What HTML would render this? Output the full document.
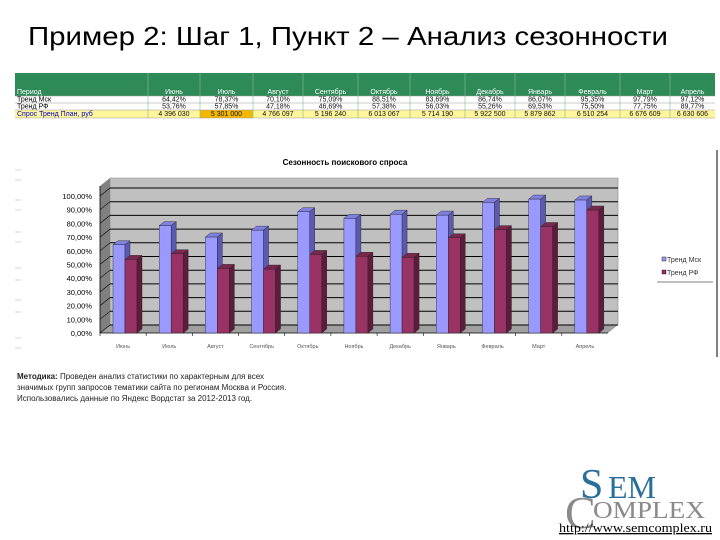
<!DOCTYPE html>
<html><head><meta charset="utf-8"><style>
body{margin:0;background:#fff;}
svg{display:block;font-family:"Liberation Sans",sans-serif;}
</style></head><body>
<svg id="s" width="720" height="540" viewBox="0 0 720 540">
<text x="28" y="45" font-size="26" textLength="640" lengthAdjust="spacingAndGlyphs" fill="#000">Пример 2: Шаг 1, Пункт 2 – Анализ сезонности</text>
<g id="tbl"></g>
<g id="chart"></g>
<g font-size="8" fill="#222">
<text x="17" y="379"><tspan font-weight="bold">Методика:</tspan> Проведен анализ статистики по характерным для всех</text>
<text x="17" y="390">значимых групп запросов тематики сайта по регионам Москва и Россия.</text>
<text x="17" y="401">Использовались данные по Яндекс Вордстат за 2012-2013 год.</text>
</g>
<g font-family="Liberation Serif,serif">
<text x="565" y="528" font-size="46" fill="#8a8a8a">C</text>
<text x="593" y="518" font-size="24" textLength="112" lengthAdjust="spacingAndGlyphs" fill="#8a8a8a">OMPLEX</text>
<text x="580" y="498" font-size="42" fill="#2a6f9a">S</text>
<text x="608" y="498" font-size="32" fill="#2a6f9a">EM</text>
<text x="559" y="532" font-size="13" textLength="153" lengthAdjust="spacingAndGlyphs" fill="#000" text-decoration="underline">http://www.semcomplex.ru</text>
</g>
</svg>
<script>
const months=["Июнь","Июль","Август","Сентябрь","Октябрь","Ноябрь","Декабрь","Январь","Февраль","Март","Апрель"];
const mskValues=[64.42,78.37,70.10,75.09,88.51,83.69,86.74,86.07,95.35,97.79,97.12];
const rfValues=[53.76,57.85,47.18,46.69,57.38,56.03,55.26,69.53,75.50,77.75,89.77];
const demand=["4 396 030","5 301 000","4 766 097","5 196 240","6 013 067","5 714 190","5 922 500","5 879 862","6 510 254","6 676 609","6 630 606"];
const yTicks=[0,10,20,30,40,50,60,70,80,90,100];
const NS="http://www.w3.org/2000/svg";
function mk(p,tag,at,txt){const e=document.createElementNS(NS,tag);for(const k in at)e.setAttribute(k,at[k]);if(txt!=null)e.textContent=txt;p.appendChild(e);return e;}
const fmt=v=>v.toFixed(2).replace('.',',')+'%';
const tbl=document.getElementById('tbl');
const colX=[15,148,200,253,303,358,410,465,515,565,620,670,715];
mk(tbl,'rect',{x:15,y:73,width:700,height:23,fill:'#2e8b57'});
mk(tbl,'rect',{x:15,y:110,width:700,height:8,fill:'#fff59a'});
mk(tbl,'rect',{x:200,y:110,width:53,height:8,fill:'#f5b800'});
for(let i=1;i<colX.length-1;i++){mk(tbl,'line',{x1:colX[i],y1:73,x2:colX[i],y2:118,stroke:'#7fbf9a','stroke-width':0.6});}
[96,103,110,118].forEach(y=>mk(tbl,'line',{x1:15,y1:y,x2:715,y2:y,stroke:'#999','stroke-width':0.5}));
const rowLabels=["Период","Тренд Мск","Тренд РФ","Спрос Тренд План, руб"];
const rowY=[94,101.5,108.5,116];
rowLabels.forEach((l,r)=>{const t=mk(tbl,'text',{x:17,y:rowY[r],'font-size':7,fill:r==0?'#fff':(r==3?'#00c':'#000')},l);

});
months.forEach((m,i)=>{const cx=(colX[i+1]+colX[i+2])/2;
const vals=[m,fmt(mskValues[i]),fmt(rfValues[i]),demand[i]];
vals.forEach((v,r)=>{const t=mk(tbl,'text',{x:cx,y:rowY[r],'font-size':7,'text-anchor':'middle',fill:r==0?'#fff':'#111'},v);

});});
const ch=document.getElementById('chart');
const X0=100,X1=608,Y0=333,H=137,DX=10,DY=-8;
const yS=v=>Y0-v/100*H;
const n=months.length,cw=(X1-X0)/n;
mk(ch,'rect',{x:15,y:150,width:702,height:207,fill:'#fff'});
mk(ch,'line',{x1:717,y1:150,x2:717,y2:357,stroke:'#000','stroke-width':1});
[170,180,200,210,232,242,268,280,300,312,338,348].forEach(y=>mk(ch,'line',{x1:15,y1:y,x2:21,y2:y,stroke:'#bbb','stroke-width':0.6}));
mk(ch,'text',{x:345,y:165,'font-size':8,'font-weight':'bold','text-anchor':'middle'},'Сезонность поискового спроса');
mk(ch,'polygon',{points:`${X0+DX},${yS(100)+DY-10} ${X1+DX},${yS(100)+DY-10} ${X1+DX},${Y0+DY} ${X0+DX},${Y0+DY}`,fill:'#c0c0c0',stroke:'#888','stroke-width':0.6});
mk(ch,'polygon',{points:`${X0},${yS(100)-10} ${X0+DX},${yS(100)+DY-10} ${X0+DX},${Y0+DY} ${X0},${Y0}`,fill:'#808080'});
mk(ch,'polygon',{points:`${X0},${Y0} ${X0+DX},${Y0+DY} ${X1+DX},${Y0+DY} ${X1},${Y0}`,fill:'#a0a0a0'});
yTicks.forEach(v=>{const y=yS(v);
const g=mk(ch,'line',{x1:X0+DX,y1:y+DY,x2:X1+DX,y2:y+DY,stroke:'#000','stroke-width':1});


mk(ch,'line',{x1:X0,y1:y,x2:X0+DX,y2:y+DY,stroke:'#000','stroke-width':0.6});
const t=mk(ch,'text',{x:92,y:y+3,'font-size':7.5,'text-anchor':'end',fill:'#000'},v.toFixed(2).replace('.',',')+'%');

});
mk(ch,'line',{x1:X0,y1:Y0,x2:X1,y2:Y0,stroke:'#000','stroke-width':0.8});
mk(ch,'line',{x1:X0,y1:yS(100)-10,x2:X0,y2:Y0,stroke:'#000','stroke-width':0.8});
function bar(x,v,front,top,side,name){const w=12,d=5,dd=-4,y=yS(v);
const g=mk(ch,'g',{});


mk(g,'rect',{x:x,y:y,width:w,height:Y0-y,fill:front,stroke:'#222','stroke-width':0.4});
mk(g,'polygon',{points:`${x},${y} ${x+d},${y+dd} ${x+w+d},${y+dd} ${x+w},${y}`,fill:top,stroke:'#222','stroke-width':0.4});
mk(g,'polygon',{points:`${x+w},${y} ${x+w+d},${y+dd} ${x+w+d},${Y0+dd} ${x+w},${Y0}`,fill:side,stroke:'#222','stroke-width':0.4});}
months.forEach((m,i)=>{const cx=X0+cw*i;
bar(cx+13,mskValues[i],'#9999ff','#8080e0','#5a5ab0','bar-msk');
bar(cx+25,rfValues[i],'#993366','#7a2850','#5e1c3c','bar-rf');
mk(ch,'line',{x1:cx,y1:Y0,x2:cx,y2:Y0+3,stroke:'#000','stroke-width':0.6});
const t=mk(ch,'text',{x:cx+cw/2,y:348,'font-size':5.5,'text-anchor':'middle',fill:'#555'},m);

});
const lg=mk(ch,'g',{});


mk(lg,'rect',{x:662,y:257,width:4,height:4,fill:'#9999ff',stroke:'#000','stroke-width':0.4});
mk(lg,'text',{x:667,y:262,'font-size':7,fill:'#333'},'Тренд Мск');
mk(lg,'rect',{x:662,y:270,width:4,height:4,fill:'#993366',stroke:'#000','stroke-width':0.4});
mk(lg,'text',{x:667,y:275,'font-size':7,fill:'#333'},'Тренд РФ');
mk(lg,'line',{x1:657,y1:282,x2:713,y2:282,stroke:'#000','stroke-width':0.6});
</script>
</body></html>
